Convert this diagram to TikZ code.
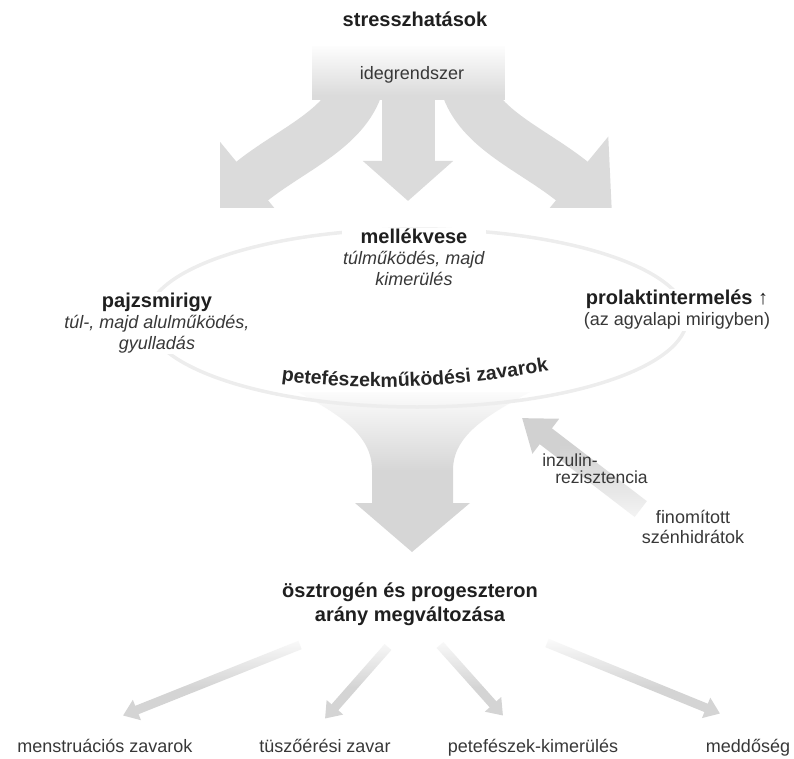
\documentclass[tikz,border=0pt]{standalone}
\usepackage{fontspec}
\setmainfont{Liberation Sans}
\usetikzlibrary{arrows.meta,fadings,decorations.text,backgrounds}

\newcommand{\organ}[1]{{\fontsize{20}{21}\selectfont\bfseries\color{black!88}#1}}

\tikzset{
  lbl/.style={font=\fontsize{18}{21}\selectfont, text=black!78, align=center, inner sep=1pt},
  boldlbl/.style={font=\fontsize{20}{24}\selectfont\bfseries, text=black!88, align=center, inner sep=1pt},
  fatarrow/.style={black!14, line width=#1},
  thinarrow/.style={black!17, line width=9pt, -{Triangle[length=15pt,width=21pt]}},
  veil/.style={white, path fading=#1}
}

\begin{document}
\begin{tikzpicture}[x=1pt, y=-1pt]
    \useasboundingbox (0,0) rectangle (794,759);

    % felső rész
    \node[boldlbl] (stress) at (415,19) {stresszhatások};
    \node[lbl] (nerve) at (412,75) {idegrendszer};

    % ellipszis körüli szervek
    \node[lbl, fill=white] (adrenal) at (414,257) {\organ{mellékvese}\\ \textit{túlműködés, majd}\\ \textit{kimerülés}};
    \node[lbl, fill=white] (thyroid) at (157,323) {\organ{pajzsmirigy}\\ \textit{túl-, majd alulműködés,}\\ \textit{gyulladás}};
    \node[lbl, fill=white] (prolactin) at (677,310) {\organ{prolaktintermelés {\mdseries ↑}}\\ (az agyalapi mirigyben)};

    % inzulin
    \node[lbl, align=left, font=\fontsize{17.5}{17}\selectfont] (insulin) at (595,469) {inzulin-\\ \hspace*{13pt}rezisztencia};
    \node[lbl, font=\fontsize{18}{20}\selectfont] (carb) at (693,527) {finomított\\ szénhidrátok};

    % hormonok
    \node[boldlbl] (ratio) at (410,604) {ösztrogén és progeszteron\\ arány megváltozása};

    % következmények
    \node[lbl, anchor=base] (menstr) at (105,752) {menstruációs zavarok};
    \node[lbl, anchor=base] (follicle) at (325,752) {tüszőérési zavar};
    \node[lbl, anchor=base] (ovexh) at (533,752) {petefészek-kimerülés};
    \node[lbl, anchor=base] (infert) at (748,752) {meddőség};

    % ívelt felirat
    \path[decorate, decoration={text along path, text align=center,
        text={|\fontsize{19.5}{23}\selectfont\bfseries\color{black!85}|petefészekműködési zavarok}}]
        (270,379) .. controls (350,391) and (440,391) .. (560,369);

    \coordinate (ltip) at (212,214);
    \coordinate (ctip) at (408,201);
    \coordinate (rtip) at (612,214);
    \coordinate (ovtip) at (522,418);
    \coordinate (b1) at (300,645);
    \coordinate (b2) at (388,647);
    \coordinate (b3) at (440,645);
    \coordinate (b4) at (547,643);

    \begin{scope}[on background layer]
        % három vastag nyíl
        \begin{scope}
            \clip (220,44) rectangle (612,208);
            \fill[black!14] (312,46) rectangle (505,100);
            \draw[fatarrow=50pt, -{Triangle[length=52pt,width=112pt]}] (nerve.south west) .. controls (345,130) and (290,150) .. (ltip);
            \draw[fatarrow=53pt, -{Triangle[length=40pt,width=88pt]}] (nerve.south -| ctip) -- (ctip);
            \draw[fatarrow=50pt, -{Triangle[length=52pt,width=112pt]}] (nerve.south east) .. controls (479,130) and (534,150) .. (rtip);
            \fill[veil=south] (220,44) rectangle (612,96);
        \end{scope}

        % tölcsér
        \fill[black!16] (298,392) .. controls (340,415) and (372,435) .. (372,470) -- (372,503) -- (355,503)
            -- (412,552) -- (470,503) -- (453,503) -- (453,470) .. controls (453,435) and (488,415) .. (530,392) -- cycle;
        \fill[veil=south] (290,386) rectangle (540,472);

        % inzulin nyíl
        \draw[black!18, line width=20pt, -{Triangle[length=30pt,width=42pt]}] (carb.north west) -- (ovtip);
        \fill[veil=north] (560,444) rectangle (680,540);

        % alsó nyilak
        \draw[thinarrow] (b1) -- ([shift={(18,-22)}]menstr.north);
        \draw[thinarrow] (b2) -- ([shift={(0,-19)}]follicle.north);
        \draw[thinarrow] (b3) -- ([shift={(-30,-22)}]ovexh.north);
        \draw[thinarrow] (b4) -- ([shift={(-28,-24)}]infert.north);
        \fill[veil=south] (60,634) rectangle (740,688);

        % ellipszis
        \draw[black!7, line width=3.5pt] (417,318) ellipse [x radius=270, y radius=89];
    \end{scope}
\end{tikzpicture}
\end{document}
